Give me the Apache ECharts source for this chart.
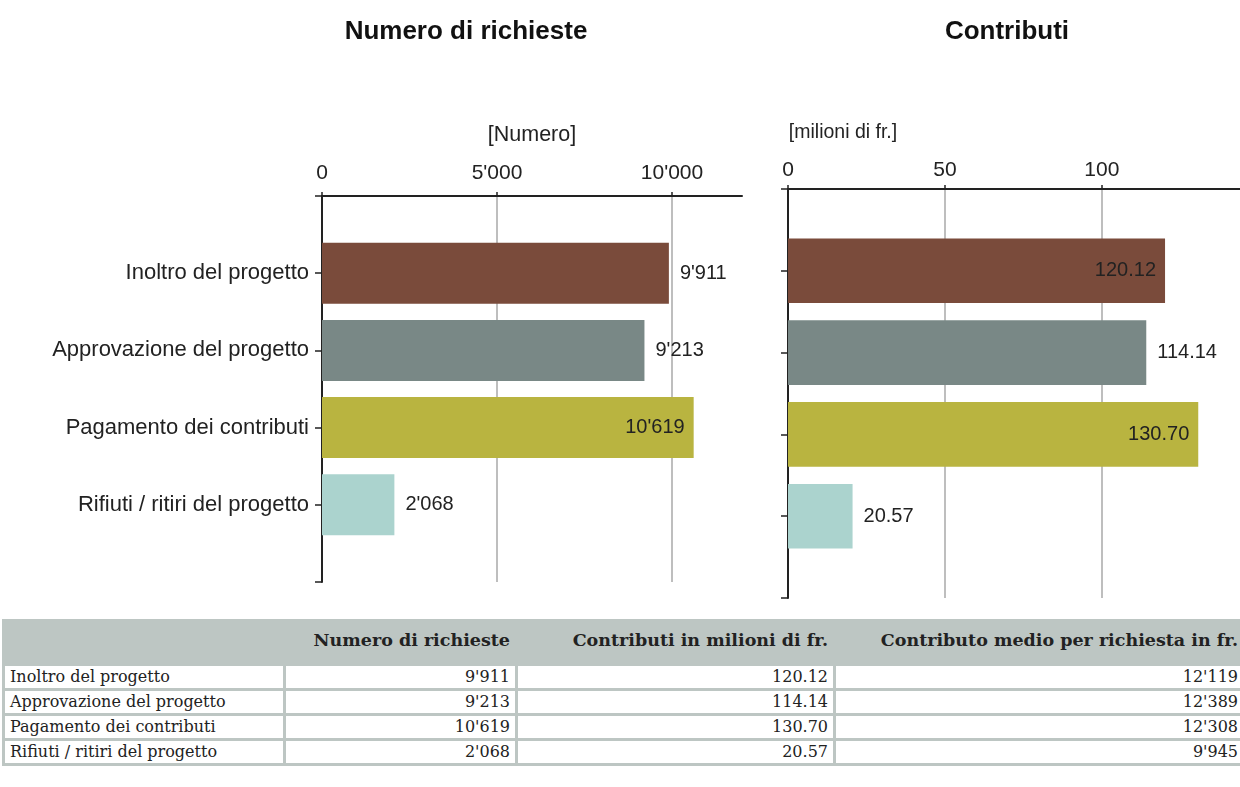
<!DOCTYPE html>
<html>
<head>
<meta charset="utf-8">
<script src="https://cdn.jsdelivr.net/npm/echarts@6/dist/echarts.min.js"></script>
<style>
html,body{margin:0;padding:0;background:#fff;overflow:hidden;width:1240px;height:787px;position:relative}
#chart{position:absolute;left:0;top:0;width:1240px;height:612px}
#tbl{position:absolute;left:2px;top:619px;border-collapse:separate;border-spacing:3px;background:#bdc6c3;
  font-family:'DejaVu Serif',serif;font-size:16px;color:#222;table-layout:fixed;width:1244px}
#tbl th{background:#bdc6c3;font-weight:bold;font-size:17.5px;text-align:right;height:35px;padding:0 5px 6px 3px;white-space:nowrap;overflow:hidden}
#tbl td{background:#fff;height:22px;padding:0 5px 0 5px;white-space:nowrap;line-height:20px}
#tbl td.num{text-align:right}
</style>
</head>
<body>
<div id="chart"></div>
<table id="tbl"></table>
<script>
// ---- data ----
const categories = ['Inoltro del progetto', 'Approvazione del progetto', 'Pagamento dei contributi', 'Rifiuti / ritiri del progetto'];
const requests = [9911, 9213, 10619, 2068];
const contributions = [120.12, 114.14, 130.70, 20.57];
const avgContribution = [12119, 12389, 12308, 9945];
const tableHeaders = ['', 'Numero di richieste', 'Contributi in milioni di fr.', 'Contributo medio per richiesta in fr.'];
const chartTitles = ['Numero di richieste', 'Contributi'];
const axisUnits = ['[Numero]', '[milioni di fr.]'];

// ---- styling (not data) ----
const barColors = ['#7a4b3b', '#798886', '#b9b440', '#abd3ce'];
const requestsLabelInside = [false, false, true, false];
const contribLabelInside = [true, false, true, false];

const fmt = n => String(n).replace(/\B(?=(\d{3})+(?!\d))/g, "'");
const fmt2 = n => n.toFixed(2);

const axisCats = [''].concat(categories).concat([' ']);
const FONT = "'Liberation Sans', Arial, sans-serif";

function makeSeries(values, insideFlags, fmtFn, idx) {
  return {
    type: 'bar',
    xAxisIndex: idx, yAxisIndex: idx,
    barWidth: '79%',
    encode: { x: 0, y: 1 },
    data: values.map((v, i) => ({
      value: [v, i + 1],
      itemStyle: { color: barColors[i] },
      label: { position: insideFlags[i] ? 'insideRight' : 'right', distance: insideFlags[i] ? 9 : 11 }
    })),
    label: {
      show: true, fontSize: 20, color: '#222', fontFamily: FONT,
      formatter: p => fmtFn(p.value[0])
    },
    silent: true, animation: false
  };
}

function xAx(idx, max, interval, fmtFn, margin) {
  return {
    type: 'value', gridIndex: idx, position: 'top', min: 0, max: max, interval: interval,
    axisLine: { show: true, onZero: false, lineStyle: { color: '#222', width: 2 } },
    axisTick: { show: true, length: 4, lineStyle: { color: '#222', width: 1.5 } },
    axisLabel: { fontSize: 21, color: '#222', fontFamily: FONT, margin: margin, showMaxLabel: false, formatter: fmtFn },
    splitLine: { show: true, showMinLine: false, showMaxLine: false, lineStyle: { color: '#a8a8a8', width: 1.5 } }
  };
}

function yAx(idx, showLabels) {
  return {
    type: 'category', gridIndex: idx, inverse: true, boundaryGap: false, data: axisCats,
    axisLine: { show: true, onZero: false, lineStyle: { color: '#222', width: 2 } },
    axisTick: { show: true, length: 7, interval: 0, lineStyle: { color: '#222', width: 1.5 } },
    axisLabel: { show: showLabels, interval: 0, fontSize: 22, color: '#222', fontFamily: FONT, margin: 13 },
    splitLine: { show: false }
  };
}

const titleStyle = { fontSize: 26, fontWeight: 'bold', color: '#111', fontFamily: FONT };
const chart = echarts.init(document.getElementById('chart'), null, { renderer: 'canvas' });
chart.setOption({
  animation: false,
  backgroundColor: '#fff',
  title: [
    { text: chartTitles[0], left: 466, top: 19, padding: 0, textAlign: 'center', textStyle: titleStyle },
    { text: chartTitles[1], left: 1007, top: 19, padding: 0, textAlign: 'center', textStyle: titleStyle },
    { text: axisUnits[0], left: 532, top: 124, padding: 0, textAlign: 'center', textStyle: { fontSize: 21.5, fontWeight: 'normal', color: '#222', fontFamily: FONT } },
    { text: axisUnits[1], left: 843, top: 123, padding: 0, textAlign: 'center', textStyle: { fontSize: 19.5, fontWeight: 'normal', color: '#222', fontFamily: FONT } }
  ],
  grid: [
    { left: 322, top: 196, width: 420, height: 386 },
    { left: 788, top: 189, width: 452, height: 409 }
  ],
  xAxis: [
    xAx(0, 12000, 5000, fmt, 12),
    xAx(1, 144, 50, v => String(v), 8)
  ],
  yAxis: [
    yAx(0, true),
    yAx(1, false)
  ],
  series: [
    makeSeries(requests, requestsLabelInside, fmt, 0),
    makeSeries(contributions, contribLabelInside, fmt2, 1)
  ]
});

// ---- table ----
const tbl = document.getElementById('tbl');
const colW = [278, 229, 315, 407];
let html = '<colgroup>' + colW.map(w => '<col style="width:' + w + 'px">').join('') + '</colgroup>';
html += '<tr>' + tableHeaders.map(h => '<th>' + h + '</th>').join('') + '</tr>';
categories.forEach((c, i) => {
  html += '<tr><td>' + c + '</td><td class="num">' + fmt(requests[i]) + '</td><td class="num">' +
    fmt2(contributions[i]) + '</td><td class="num">' + fmt(avgContribution[i]) + '</td></tr>';
});
tbl.innerHTML = html;
</script>
</body>
</html>
